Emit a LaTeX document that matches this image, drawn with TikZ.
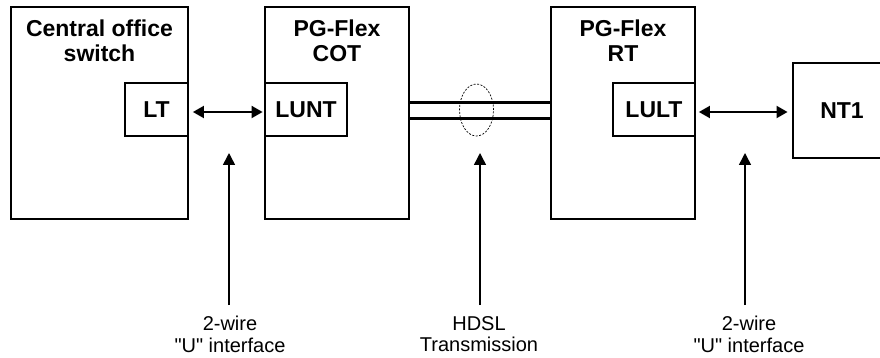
\documentclass[tikz,border=0pt]{standalone}
\usepackage{fontspec}
\setmainfont{Liberation Sans}[Ligatures=TeXOff]
\usetikzlibrary{arrows.meta,shapes.geometric}
\tikzset{
  bigbox/.style={draw, line width=2.9pt, rectangle, inner sep=0pt, minimum height=212pt},
  smallbox/.style={draw, line width=1.8pt, rectangle, inner sep=0pt, minimum height=53pt, fill=white,
                   font=\fontsize{23}{26}\selectfont\bfseries},
  titletext/.style={align=center, inner sep=0pt, font=\fontsize{23}{25.5}\selectfont\bfseries},
  lbl/.style={align=center, inner sep=0pt, font=\fontsize{20}{21.5}\selectfont},
  dblarrow/.style={line width=1.9pt, {Triangle[length=11pt,width=12pt]}-{Triangle[length=11pt,width=12pt]}},
  pointer/.style={line width=1.5pt, -{Triangle[length=12pt,width=12pt]}},
  wire/.style={line width=3pt},
  loopmark/.style={draw, ellipse, dash pattern=on 2pt off 1.5pt, line width=0.7pt, inner sep=0pt,
                   minimum width=34pt, minimum height=52pt}
}
\begin{document}
\begin{tikzpicture}[x=1pt,y=-1pt]
\clip (0,0) rectangle (880,358);
\fill[white] (0,0) rectangle (880,358);
% main boxes
\node[bigbox, minimum width=177pt] (cos) at (99.5,113) {};
\node[bigbox, minimum width=144pt] (cot) at (337,113) {};
\node[bigbox, minimum width=144pt] (rt) at (623,113) {};
\node[bigbox, minimum height=95pt, minimum width=98pt, font=\fontsize{23}{26}\selectfont\bfseries] (nt) at (842,110.5) {NT1};
% titles
\node[titletext, anchor=north] (cost) at (99.5,19.5) {Central office\\switch};
\node[titletext, anchor=north] (cott) at (337,19.5) {PG-Flex\\COT};
\node[titletext, anchor=north] (rtt) at (623,19.5) {PG-Flex\\RT};
% inner boxes
\node[smallbox, minimum width=63pt] (lt) at (156.5,109.5) {LT};
\node[smallbox, minimum width=82pt] (lunt) at (306,109.5) {LUNT};
\node[smallbox, minimum width=82pt] (lult) at (654,109.5) {LULT};
% 2-wire arrows
\draw[dblarrow] ([xshift=4pt,yshift=-2.5pt]lt.east) -- ([xshift=-1.5pt,yshift=-2.5pt]lunt.west);
\draw[dblarrow] ([xshift=3pt,yshift=-2.5pt]lult.east) -- ([xshift=-4pt,yshift=-1.5pt]nt.west);
% HDSL pair
\draw[wire] ([yshift=10pt]cot.east) -- ([yshift=10pt]rt.west);
\draw[wire] ([yshift=-5.5pt]cot.east) -- ([yshift=-5.5pt]rt.west);
\node[loopmark] (loop) at (476.5,110) {};
% pointers and labels
\coordinate (t1) at (229,153);
\coordinate (t2) at (480,153);
\coordinate (t3) at (745,153);
\node[lbl, anchor=north] (l1) at (230,316) {2-wire\\"U" interface};
\node[lbl, anchor=north] (l2) at (479,316) {HDSL\\Transmission};
\node[lbl, anchor=north] (l3) at (749,316) {2-wire\\"U" interface};
\draw[pointer] (t1 |- 0,305) -- (t1);
\draw[pointer] (t2 |- 0,305) -- (t2);
\draw[pointer] (t3 |- 0,305) -- (t3);
\end{tikzpicture}
\end{document}
